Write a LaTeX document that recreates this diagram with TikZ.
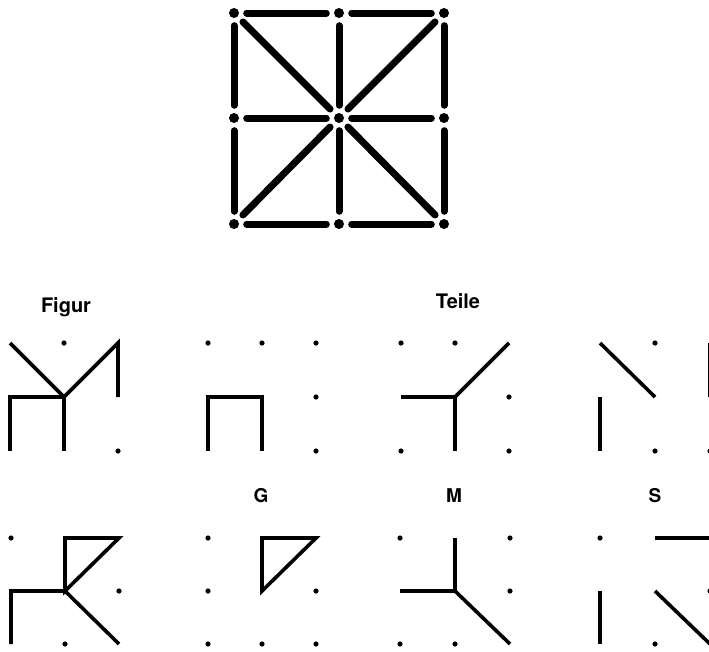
\documentclass[tikz,border=0pt]{standalone}
\usepackage{fontspec}
\setmainfont{TeX Gyre Heros}
\newcommand\mkgrid[5]{%
  \foreach \i in {0,1,2}{\foreach \j in {0,1,2}{%
    \coordinate (#1\i\j) at ({#2+\i*#3},{#4+\j*#5});}}}
\begin{document}
\begin{tikzpicture}[x=1pt,y=-1pt,
  bigdot/.style={circle,fill=black,inner sep=0pt,minimum size=10pt},
  bigline/.style={line width=7pt,line cap=round,shorten <=7.5pt,shorten >=7.5pt},
  part/.style={line width=3.6pt,line join=miter},
  lbl/.style={font=\bfseries\fontsize{20}{22}\selectfont,anchor=base},
  slbl/.style={font=\bfseries\fontsize{19}{21}\selectfont,anchor=base}]
\useasboundingbox (0,0) rectangle (709,651);
\clip (0,0) rectangle (709,651);
% top figure
\foreach \i/\x in {0/234,1/339,2/444}{\foreach \j/\y in {0/13,1/118,2/224}{%
  \node[bigdot] (t\i\j) at (\x,\y) {};}}
\foreach \j in {0,1,2}{%
  \draw[bigline] (t0\j) -- (t1\j);
  \draw[bigline] (t1\j) -- (t2\j);
  \draw[bigline] (t\j0) -- (t\j1);
  \draw[bigline] (t\j1) -- (t\j2);}
\draw[bigline] (t00) -- (t11);
\draw[bigline] (t20) -- (t11);
\draw[bigline] (t02) -- (t11);
\draw[bigline] (t22) -- (t11);
% grids
\mkgrid{a}{10}{54}{343}{54}
\mkgrid{b}{208}{54}{343}{54}
\mkgrid{c}{401}{54}{343}{54}
\mkgrid{d}{600}{55}{343}{54}
\mkgrid{e}{11}{54}{538}{53}
\mkgrid{f}{208}{54}{538}{53}
\mkgrid{g}{400}{55}{538}{53}
\mkgrid{h}{600}{55}{538}{53}
% labels
\node[lbl] (figur) at (66,312) {Figur};
\node[lbl] (teile) at (458,308) {Teile};
\node[slbl] (lG) at (261,502) {G};
\node[slbl] (lM) at (454,502) {M};
\node[slbl] (lS) at (655,502) {S};
% panel A
\draw[part] (a00) -- (a11) -- (a20) -- (a21);
\draw[part] (a02) -- (a01) -- (a11) -- (a12);
\foreach \p in {a10,a22} \fill (\p) circle[radius=2.6];
% panel B
\draw[part] (b02) -- (b01) -- (b11) -- (b12);
\foreach \p in {b00,b10,b20,b21,b22} \fill (\p) circle[radius=2.6];
% panel C
\draw[part] (c01) -- (c11) -- (c12);
\draw[part] (c11) -- (c20);
\foreach \p in {c00,c10,c21,c02,c22} \fill (\p) circle[radius=2.6];
% panel D
\draw[part] (d00) -- (d11);
\draw[part] (d01) -- (d02);
\draw[part] (d20) -- (d21);
\foreach \p in {d10,d12,d22} \fill (\p) circle[radius=2.6];
% panel E
\draw[part] (e10) -- (e20) -- (e11) -- cycle;
\draw[part] (e02) -- (e01) -- (e11) -- (e22);
\foreach \p in {e00,e21,e12} \fill (\p) circle[radius=2.6];
% panel F
\draw[part] (f10) -- (f20) -- (f11) -- cycle;
\foreach \p in {f00,f01,f21,f02,f12,f22} \fill (\p) circle[radius=2.6];
% panel G (M)
\draw[part] (g10) -- (g11) -- (g22);
\draw[part] (g01) -- (g11);
\foreach \p in {g00,g20,g21,g02,g12} \fill (\p) circle[radius=2.6];
% panel H (S)
\draw[part] (h01) -- (h02);
\draw[part] (h10) -- (h20);
\draw[part] (h11) -- (h22);
\foreach \p in {h00,h12,h21} \fill (\p) circle[radius=2.6];
\end{tikzpicture}
\end{document}
